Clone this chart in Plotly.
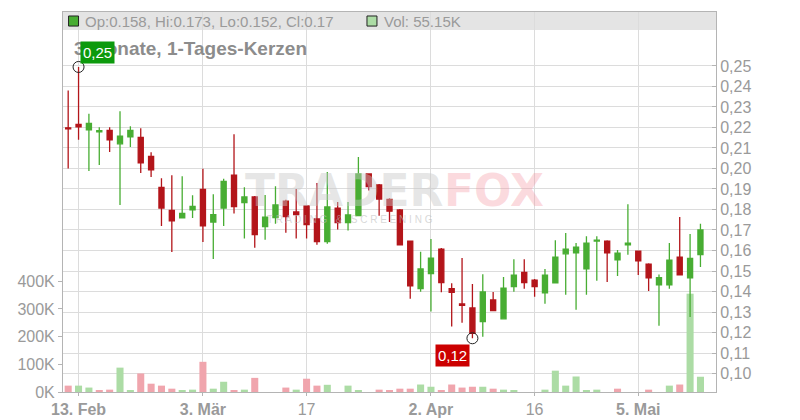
import plotly.graph_objects as go

dates = [
    "2025-02-12", "2025-02-13", "2025-02-14", "2025-02-17", "2025-02-18", "2025-02-19",
    "2025-02-20", "2025-02-21", "2025-02-24", "2025-02-25", "2025-02-26", "2025-02-27",
    "2025-02-28", "2025-03-03", "2025-03-04", "2025-03-05", "2025-03-06", "2025-03-07",
    "2025-03-10", "2025-03-11", "2025-03-12", "2025-03-13", "2025-03-14", "2025-03-17",
    "2025-03-18", "2025-03-19", "2025-03-20", "2025-03-21", "2025-03-24", "2025-03-25",
    "2025-03-26", "2025-03-27", "2025-03-28", "2025-03-31", "2025-04-01", "2025-04-02",
    "2025-04-03", "2025-04-04", "2025-04-07", "2025-04-08", "2025-04-09", "2025-04-10",
    "2025-04-11", "2025-04-14", "2025-04-15", "2025-04-16", "2025-04-17", "2025-04-22",
    "2025-04-23", "2025-04-24", "2025-04-25", "2025-04-28", "2025-04-29", "2025-04-30",
    "2025-05-02", "2025-05-05", "2025-05-06", "2025-05-07", "2025-05-08", "2025-05-09",
    "2025-05-12", "2025-05-13",
]

open_ = [
    0.2198, 0.2215, 0.2188, 0.2178, 0.2186, 0.2120, 0.2154, 0.2152, 0.2059, 0.1908,
    0.1796, 0.1759, 0.1798, 0.1898, 0.1739, 0.1807, 0.1968, 0.1833, 0.1861, 0.1716,
    0.1760, 0.1841, 0.1788, 0.1817, 0.1754, 0.1643, 0.1807, 0.1736, 0.1770, 0.1973,
    0.1920, 0.1849, 0.1798, 0.1646, 0.1414, 0.1487, 0.1607, 0.1414, 0.1339, 0.1320,
    0.1253, 0.1359, 0.1267, 0.1424, 0.1493, 0.1456, 0.1394, 0.1442, 0.1584, 0.1589,
    0.1511, 0.1646, 0.1646, 0.1554, 0.1628, 0.1597, 0.1533, 0.1433, 0.1433, 0.1567,
    0.1467, 0.158,
]
high = [
    0.2380, 0.2495, 0.2267, 0.2201, 0.2201, 0.2279, 0.2206, 0.2196, 0.2079, 0.1952,
    0.1967, 0.1962, 0.1869, 0.1999, 0.1874, 0.1950, 0.2167, 0.1908, 0.1866, 0.1871,
    0.1913, 0.1848, 0.1900, 0.1820, 0.1929, 0.1983, 0.1837, 0.1837, 0.2056, 0.1975,
    0.1924, 0.1855, 0.1802, 0.1648, 0.1594, 0.1656, 0.1612, 0.1440, 0.1563, 0.1437,
    0.1484, 0.1398, 0.1471, 0.1557, 0.1557, 0.1461, 0.1510, 0.1650, 0.1685, 0.1636,
    0.1670, 0.1670, 0.1650, 0.1602, 0.1826, 0.1598, 0.1538, 0.1483, 0.1636, 0.1763,
    0.1680, 0.173,
]
low = [
    0.2000, 0.2140, 0.1988, 0.2017, 0.2080, 0.1822, 0.2105, 0.1978, 0.1959, 0.1720,
    0.1593, 0.1759, 0.1759, 0.1641, 0.1559, 0.1720, 0.1781, 0.1658, 0.1614, 0.1653,
    0.1731, 0.1687, 0.1658, 0.1658, 0.1628, 0.1633, 0.1702, 0.1697, 0.1768, 0.1892,
    0.1770, 0.1739, 0.1625, 0.1365, 0.1399, 0.1302, 0.1396, 0.1230, 0.1248, 0.1172,
    0.1180, 0.1305, 0.1263, 0.1399, 0.1414, 0.1375, 0.1340, 0.1440, 0.1384, 0.1311,
    0.1384, 0.1452, 0.1447, 0.1476, 0.1579, 0.1481, 0.1403, 0.1233, 0.1413, 0.1480,
    0.1276, 0.152,
]
close = [
    0.2193, 0.2203, 0.2220, 0.2185, 0.2139, 0.2157, 0.2186, 0.2027, 0.1993, 0.1807,
    0.1744, 0.1781, 0.1815, 0.1720, 0.1775, 0.1937, 0.1814, 0.1861, 0.1677, 0.1763,
    0.1822, 0.1765, 0.1775, 0.1726, 0.1643, 0.1812, 0.1736, 0.1773, 0.1973, 0.1911,
    0.1851, 0.1792, 0.1628, 0.1428, 0.1510, 0.1563, 0.1443, 0.1396, 0.1333, 0.1196,
    0.1398, 0.1307, 0.1417, 0.1480, 0.1443, 0.1424, 0.1480, 0.1567, 0.1607, 0.1616,
    0.1636, 0.1650, 0.1589, 0.1587, 0.1636, 0.1550, 0.1467, 0.1468, 0.1553, 0.1481,
    0.1561, 0.170,
]
volume = [
    23000, 23000, 16000, 5000, 8500, 88000, 5000, 67000, 30000, 23000,
    12000, 5000, 8500, 109000, 12000, 37000, 5000, 8500, 51000, 0,
    0, 16000, 8500, 48000, 23000, 26000, 0, 23000, 5000, 0,
    8500, 5000, 12000, 12000, 27000, 19000, 5000, 27000, 16000, 19000,
    19000, 12000, 8500, 5000, 0, 0, 8500, 77000, 23000, 56000,
    5000, 8500, 0, 12000, 0, 0, 8500, 0, 23000, 27000,
    355000, 55150,
]

tick_dates = ["2025-02-13", "2025-03-03", "2025-03-17", "2025-04-02", "2025-04-16", "2025-05-05"]
tick_text = ["13. Feb", "3. Mär", "17", "2. Apr", "16", "5. Mai"]
price_ticks = [0.10, 0.11, 0.12, 0.13, 0.14, 0.15, 0.16, 0.17, 0.18, 0.19, 0.20, 0.21, 0.22, 0.23, 0.24, 0.25]
vol_ticks = [0, 100000, 200000, 300000, 400000]
vol_tick_text = ["0K", "100K", "200K", "300K", "400K"]
title_text = "3 Monate, 1-Tages-Kerzen"

GREEN = "#48ad33"
RED = "#b3151a"
VGREEN = "#acdca5"
VRED = "#f0a5ad"
GRID = "#dcdcdc"
AXIS = "#b4b4b4"
TXT = "#9a9a9a"
FONT = "Liberation Sans, Arial, sans-serif"

vol_colors = []
for i in range(len(close)):
    ref = close[i - 1] if i > 0 else open_[i]
    vol_colors.append(VGREEN if close[i] >= ref else VRED)

fig = go.Figure()
fig.add_trace(go.Bar(
    x=dates, y=volume, marker=dict(color=vol_colors, line=dict(width=0)),
    yaxis="y", showlegend=False, hoverinfo="skip",
))
fig.add_trace(go.Candlestick(
    x=dates, open=open_, high=high, low=low, close=close, yaxis="y2",
    increasing=dict(line=dict(color=GREEN, width=1.3), fillcolor=GREEN),
    decreasing=dict(line=dict(color=RED, width=1.3), fillcolor=RED),
    whiskerwidth=0, showlegend=False,
))

imax = max(range(len(high)), key=lambda k: high[k])
imin = min(range(len(low)), key=lambda k: low[k])
fig.add_trace(go.Scatter(
    x=[dates[imax], dates[imin]], y=[high[imax], low[imin]], mode="markers", yaxis="y2",
    marker=dict(symbol="circle-open", size=11, color="#222", line=dict(width=1)),
    showlegend=False, hoverinfo="skip",
))

ann = []
# watermark
ann.append(dict(xref="paper", yref="paper", x=0.43, y=0.53, text="<b>TRADER</b>", showarrow=False,
                font=dict(family="DejaVu Sans", size=44, color="rgba(200,200,200,0.45)"),
                xanchor="center", yanchor="middle"))
ann.append(dict(xref="paper", yref="paper", x=0.66, y=0.53, text="<b>FOX</b>", showarrow=False,
                font=dict(family="DejaVu Sans", size=44, color="rgba(245,150,160,0.35)"),
                xanchor="center", yanchor="middle"))
ann.append(dict(xref="paper", yref="paper", x=0.44, y=0.455,
                text="T R A D I N G   &   S C R E E N I N G", showarrow=False,
                font=dict(family=FONT, size=10, color="rgba(190,190,190,0.6)"),
                xanchor="center", yanchor="middle"))
# title
ann.append(dict(xref="paper", yref="paper", x=0.0135, y=0.905, text="<b>" + title_text + "</b>",
                showarrow=False, xanchor="left", yanchor="middle",
                font=dict(family=FONT, size=19, color="#8c8c8c")))
# legend band text
ann.append(dict(xref="paper", yref="paper", x=0.031, y=0.976,
                text=f"Op:{open_[-1]:g}, Hi:{high[-1]:g}, Lo:{low[-1]:g}, Cl:{close[-1]:g}",
                showarrow=False, xanchor="left", yanchor="middle",
                font=dict(family=FONT, size=15, color=TXT)))
ann.append(dict(xref="paper", yref="paper", x=0.489, y=0.976,
                text=f"Vol: {volume[-1] / 1000:.2f}K",
                showarrow=False, xanchor="left", yanchor="middle",
                font=dict(family=FONT, size=15, color=TXT)))
# extreme labels
ann.append(dict(x=dates[imax], y=high[imax], yref="y2", text=f"{high[imax]:.2f}".replace(".", ","),
                showarrow=False, xanchor="left", yanchor="bottom", xshift=1, yshift=3,
                bgcolor="#0c9a0c", borderpad=2,
                font=dict(family=FONT, size=15, color="white")))
ann.append(dict(x=dates[imin], y=low[imin], yref="y2", text=f"{low[imin]:.2f}".replace(".", ","),
                showarrow=False, xanchor="right", yanchor="top", xshift=-2, yshift=-6,
                bgcolor="#cc0000", borderpad=2,
                font=dict(family=FONT, size=15, color="white")))

shapes = [
    dict(type="rect", xref="paper", yref="paper", x0=0, x1=1, y0=0.9526, y1=1.0,
         fillcolor="#e4e4e4", line=dict(width=0), layer="below"),
    dict(type="rect", xref="paper", yref="paper", x0=0.0085, x1=0.0238, y0=0.963, y1=0.9895,
         fillcolor=GREEN, line=dict(color="#222", width=1)),
    dict(type="rect", xref="paper", yref="paper", x0=0.4655, x1=0.4808, y0=0.963, y1=0.9895,
         fillcolor=VGREEN, line=dict(color="#222", width=1)),
]

tick_labels = [("<b>" + t + "</b>") if "." in t else t for t in tick_text]

fig.update_layout(
    width=800, height=420,
    margin=dict(l=63, r=84, t=12, b=28, autoexpand=False),
    paper_bgcolor="white", plot_bgcolor="white",
    font=dict(family=FONT, size=16, color=TXT),
    bargap=0.32,
    annotations=ann, shapes=shapes,
    xaxis=dict(
        type="category", categoryorder="array", categoryarray=dates,
        range=[-0.5, 62.5], rangeslider=dict(visible=False), automargin=False,
        tickmode="array", tickvals=tick_dates, ticktext=tick_labels,
        showgrid=True, gridcolor=GRID, gridwidth=1,
        showline=True, linecolor=AXIS, mirror=True,
        ticks="outside", ticklen=3, tickcolor=AXIS,
        tickfont=dict(family=FONT, size=16, color=TXT),
    ),
    yaxis=dict(
        side="left", range=[0, 1372000], automargin=False,
        tickmode="array", tickvals=vol_ticks, ticktext=vol_tick_text,
        showgrid=False, zeroline=False,
        showline=True, linecolor=AXIS,
        ticks="outside", ticklen=4, tickcolor=AXIS,
        tickfont=dict(family=FONT, size=16, color=TXT),
    ),
    yaxis2=dict(
        side="right", overlaying="y", range=[0.0910, 0.2763], automargin=False,
        tickmode="array", tickvals=price_ticks,
        ticktext=[f"{v:.2f}".replace(".", ",") for v in price_ticks],
        showgrid=True, gridcolor=GRID, gridwidth=1, zeroline=False,
        showline=True, linecolor=AXIS, mirror=True,
        ticks="inside", ticklen=4, tickcolor=AXIS,
        tickfont=dict(family=FONT, size=16, color=TXT),
    ),
)

fig.write_html("out.html", config={"displayModeBar": False},
               post_script="document.body.style.margin='0';document.body.style.overflow='hidden';")
